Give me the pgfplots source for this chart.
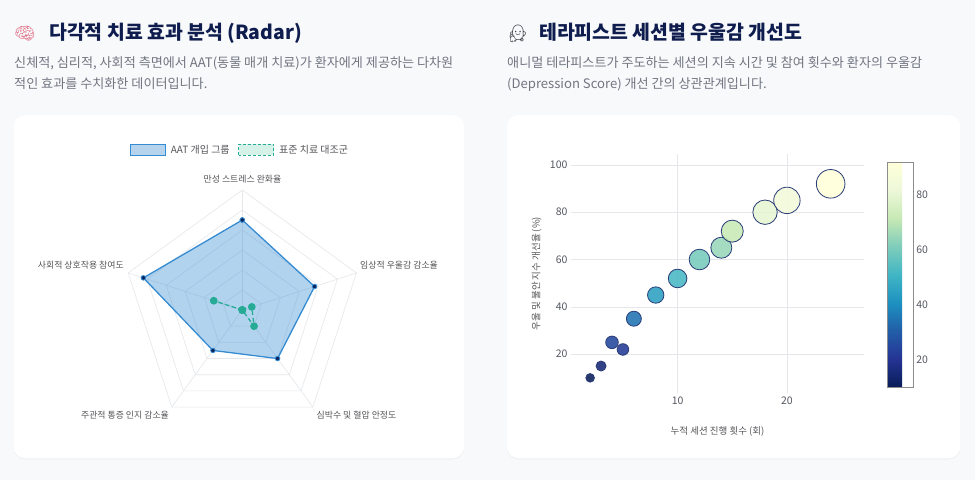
\documentclass[border=0pt]{standalone}
\usepackage{fontspec}
\usepackage{pgfplots}
\usepackage{pgfplotstable}
\pgfplotsset{compat=1.18}
\usepgfplotslibrary{polar}
\usetikzlibrary{shadows}
\setmainfont{Noto Sans CJK KR}
\newfontfamily\emojifont{Noto Emoji}
\definecolor{bg}{RGB}{248,249,251}
\definecolor{titlec}{RGB}{14,28,78}
\definecolor{subc}{RGB}{112,117,128}
\definecolor{gridc}{RGB}{229,231,235}
\definecolor{aatline}{RGB}{54,140,210}
\definecolor{aatpt}{RGB}{10,35,90}
\definecolor{ctrl}{RGB}{38,172,150}
\definecolor{ctrlfill}{RGB}{214,242,232}
\definecolor{aatbox}{RGB}{181,211,236}
\definecolor{lblc}{RGB}{85,85,90}
\definecolor{tickc}{RGB}{85,88,98}
\definecolor{bubedge}{RGB}{40,60,120}

% radar: angle (deg), value
\pgfplotstableread{
ang val
90 85
18 78
-54 70
-126 65
162 92
90 85
}\aat
\pgfplotstableread{
ang val
90 40
18 45
-54 50
-126 40
162 55
90 40
}\ctrl

% bubbles: sessions, improvement %, bubble radius
\pgfplotstableread{
x y r
2 10 4.3
3 15 5.0
4 25 6.3
5 22 5.8
6 35 7.5
8 45 8.2
10 52 9.3
12 60 10.3
14 65 10.5
15 72 11.0
18 80 12.2
20 85 13.2
24 92 14.3
}\bubbles

\begin{document}
\begin{tikzpicture}[x=1pt,y=1pt]
\fill[bg] (0,0) rectangle (975,480);
% cards
\fill[white, rounded corners=12pt, drop shadow={shadow xshift=0pt, shadow yshift=-1.2pt, opacity=0.07}] (13.3,21.7) rectangle (464.3,365);
\fill[white, rounded corners=12pt, drop shadow={shadow xshift=0pt, shadow yshift=-1.2pt, opacity=0.07}] (506.7,21.7) rectangle (960.5,365);

% titles
\node[anchor=base west, inner sep=0pt, font=\emojifont\fontsize{17}{20}\selectfont, text={rgb,255:red,225;green,120;blue,140}] at (14,440) {🧠};
\node[anchor=base west, inner sep=0pt, font=\bfseries\fontsize{19.4}{22}\selectfont, text=titlec] at (49,440) {다각적 치료 효과 분석 (Radar)};
\node[anchor=base west, inner sep=0pt, font=\fontsize{13.1}{15}\selectfont, text=subc] at (14,412) {신체적, 심리적, 사회적 측면에서 AAT(동물 매개 치료)가 환자에게 제공하는 다차원};
\node[anchor=base west, inner sep=0pt, font=\fontsize{13.1}{15}\selectfont, text=subc] at (14,391) {적인 효과를 수치화한 데이터입니다.};

\node[anchor=base west, inner sep=0pt, font=\emojifont\fontsize{17}{20}\selectfont, text={rgb,255:red,60;green,60;blue,70}] at (507,440) {🧑‍⚕️};
\node[anchor=base west, inner sep=0pt, font=\bfseries\fontsize{19.4}{22}\selectfont, text=titlec] at (539,440) {테라피스트 세션별 우울감 개선도};
\node[anchor=base west, inner sep=0pt, font=\fontsize{13.1}{15}\selectfont, text=subc] at (507,412) {애니멀 테라피스트가 주도하는 세션의 지속 시간 및 참여 횟수와 환자의 우울감};
\node[anchor=base west, inner sep=0pt, font=\fontsize{13.1}{15}\selectfont, text=subc] at (507,391) {(Depression Score) 개선 간의 상관관계입니다.};

% radar legend
\fill[aatbox, draw=aatline, line width=1.2pt] (130.5,324.5) rectangle (165.5,335.5);
\node[anchor=west, inner sep=0pt, font=\fontsize{10}{11}\selectfont, text=lblc] at (170.7,330) {AAT 개입 그룹};
\fill[ctrlfill, draw=ctrl, line width=1.2pt, dash pattern=on 3pt off 2pt] (238.5,324.5) rectangle (273.5,335.5);
\node[anchor=west, inner sep=0pt, font=\fontsize{10}{11}\selectfont, text=lblc] at (279,330) {표준 치료 대조군};

% radar
\begin{polaraxis}[
  at={(242.3pt,170pt)}, anchor=center,
  width=240pt, height=240pt, scale only axis,
  hide axis, clip=false,
  xmin=0, xmax=360, ymin=0, ymax=60,
  y filter/.expression={y-40},
]
\foreach \r in {50,60,70,80,90,100}{
  \edef\temp{\noexpand\addplot[gridc, line width=0.6pt, mark=none] coordinates {(90,\r) (18,\r) (-54,\r) (-126,\r) (162,\r) (90,\r)};}
  \temp
}
\addplot[gridc, line width=0.6pt, mark=none] coordinates {(90,40) (90,100)};
\addplot[gridc, line width=0.6pt, mark=none] coordinates {(18,40) (18,100)};
\addplot[gridc, line width=0.6pt, mark=none] coordinates {(-54,40) (-54,100)};
\addplot[gridc, line width=0.6pt, mark=none] coordinates {(-126,40) (-126,100)};
\addplot[gridc, line width=0.6pt, mark=none] coordinates {(162,40) (162,100)};
\addplot[draw=none, fill=aatline, fill opacity=0.38, mark=none] table[x=ang, y=val] {\aat};
\addplot[aatline, line width=1.3pt, mark=*, mark size=2.3pt, mark options={fill=aatpt, draw=aatline, line width=0.8pt}] table[x=ang, y=val] {\aat};
\addplot[ctrl, line width=1.3pt, dash pattern=on 4pt off 3pt, mark=*, mark size=3.2pt, mark options={solid, fill=ctrl, draw=ctrl}] table[x=ang, y=val] {\ctrl};
\end{polaraxis}

% radar axis labels
\begin{scope}[every node/.style={inner sep=0pt, font=\fontsize{8.9}{10}\selectfont, text=lblc}]
\node[anchor=center] at (242.5,301) {만성 스트레스 완화율};
\node[anchor=west] at (360,215) {임상적 우울감 감소율};
\node[anchor=center] at (356.5,65) {심박수 및 혈압 안정도};
\node[anchor=center] at (125,65) {주관적 통증 인지 감소율};
\node[anchor=east] at (124,215) {사회적 상호작용 참여도};
\end{scope}

% bubble chart
\begin{axis}[
  at={(571pt,87pt)}, anchor=south west,
  width=293pt, height=239pt, scale only axis,
  xmin=0.25, xmax=27.05, ymin=3.6, ymax=104.6,
  axis line style={draw=none},
  grid=major, grid style={gridc, line width=0.6pt},
  xtick={10,20}, ytick={20,40,60,80,100},
  major tick length=0pt,
  /pgf/number format/assume math mode=true,
  tick label style={font=\fontsize{10.5}{12}\selectfont, text=tickc},
  xlabel={누적 세션 진행 횟수 (회)},
  ylabel={우울 및 불안 지수 개선율 (\%)},
  label style={font=\fontsize{9.5}{11}\selectfont, text=lblc},
  xlabel style={at={(axis description cs:0.5,-0.162)}, anchor=center},
  ylabel style={at={(axis description cs:-0.117,0.5)}, anchor=center},
  clip=false,
  colormap={ylgnbu}{rgb255=(8,29,88) rgb255=(37,52,148) rgb255=(34,94,168) rgb255=(29,145,192) rgb255=(65,182,196) rgb255=(127,205,187) rgb255=(199,233,180) rgb255=(237,248,217) rgb255=(255,255,217)},
  colorbar,
  colorbar style={
    at={(parent axis.north east)}, anchor=north west,
    xshift=15.3pt, yshift=-8pt,
    width=26pt, height=225pt, scale only axis,
    ytick={20,40,60,80},
    major tick length=0pt,
    yticklabel pos=right,
    /pgf/number format/assume math mode=true,
    yticklabel style={font=\fontsize{10.5}{12}\selectfont, text=tickc, xshift=-1pt},
    axis line style={draw={rgb,255:red,140;green,140;blue,140}, line width=0.8pt},
  },
]
\addplot[scatter, only marks, mark=*,
  point meta=\thisrow{y},
  visualization depends on={\thisrow{r} \as \bubrad},
  scatter/use mapped color={draw=bubedge, fill=mapped color, fill opacity=0.88, line width=0.8pt, /tikz/mark size=\bubrad},
] table[x=x, y=y] {\bubbles};
\end{axis}

\pgfresetboundingbox
\path[use as bounding box] (0,0) rectangle (975,480);
\end{tikzpicture}
\end{document}
